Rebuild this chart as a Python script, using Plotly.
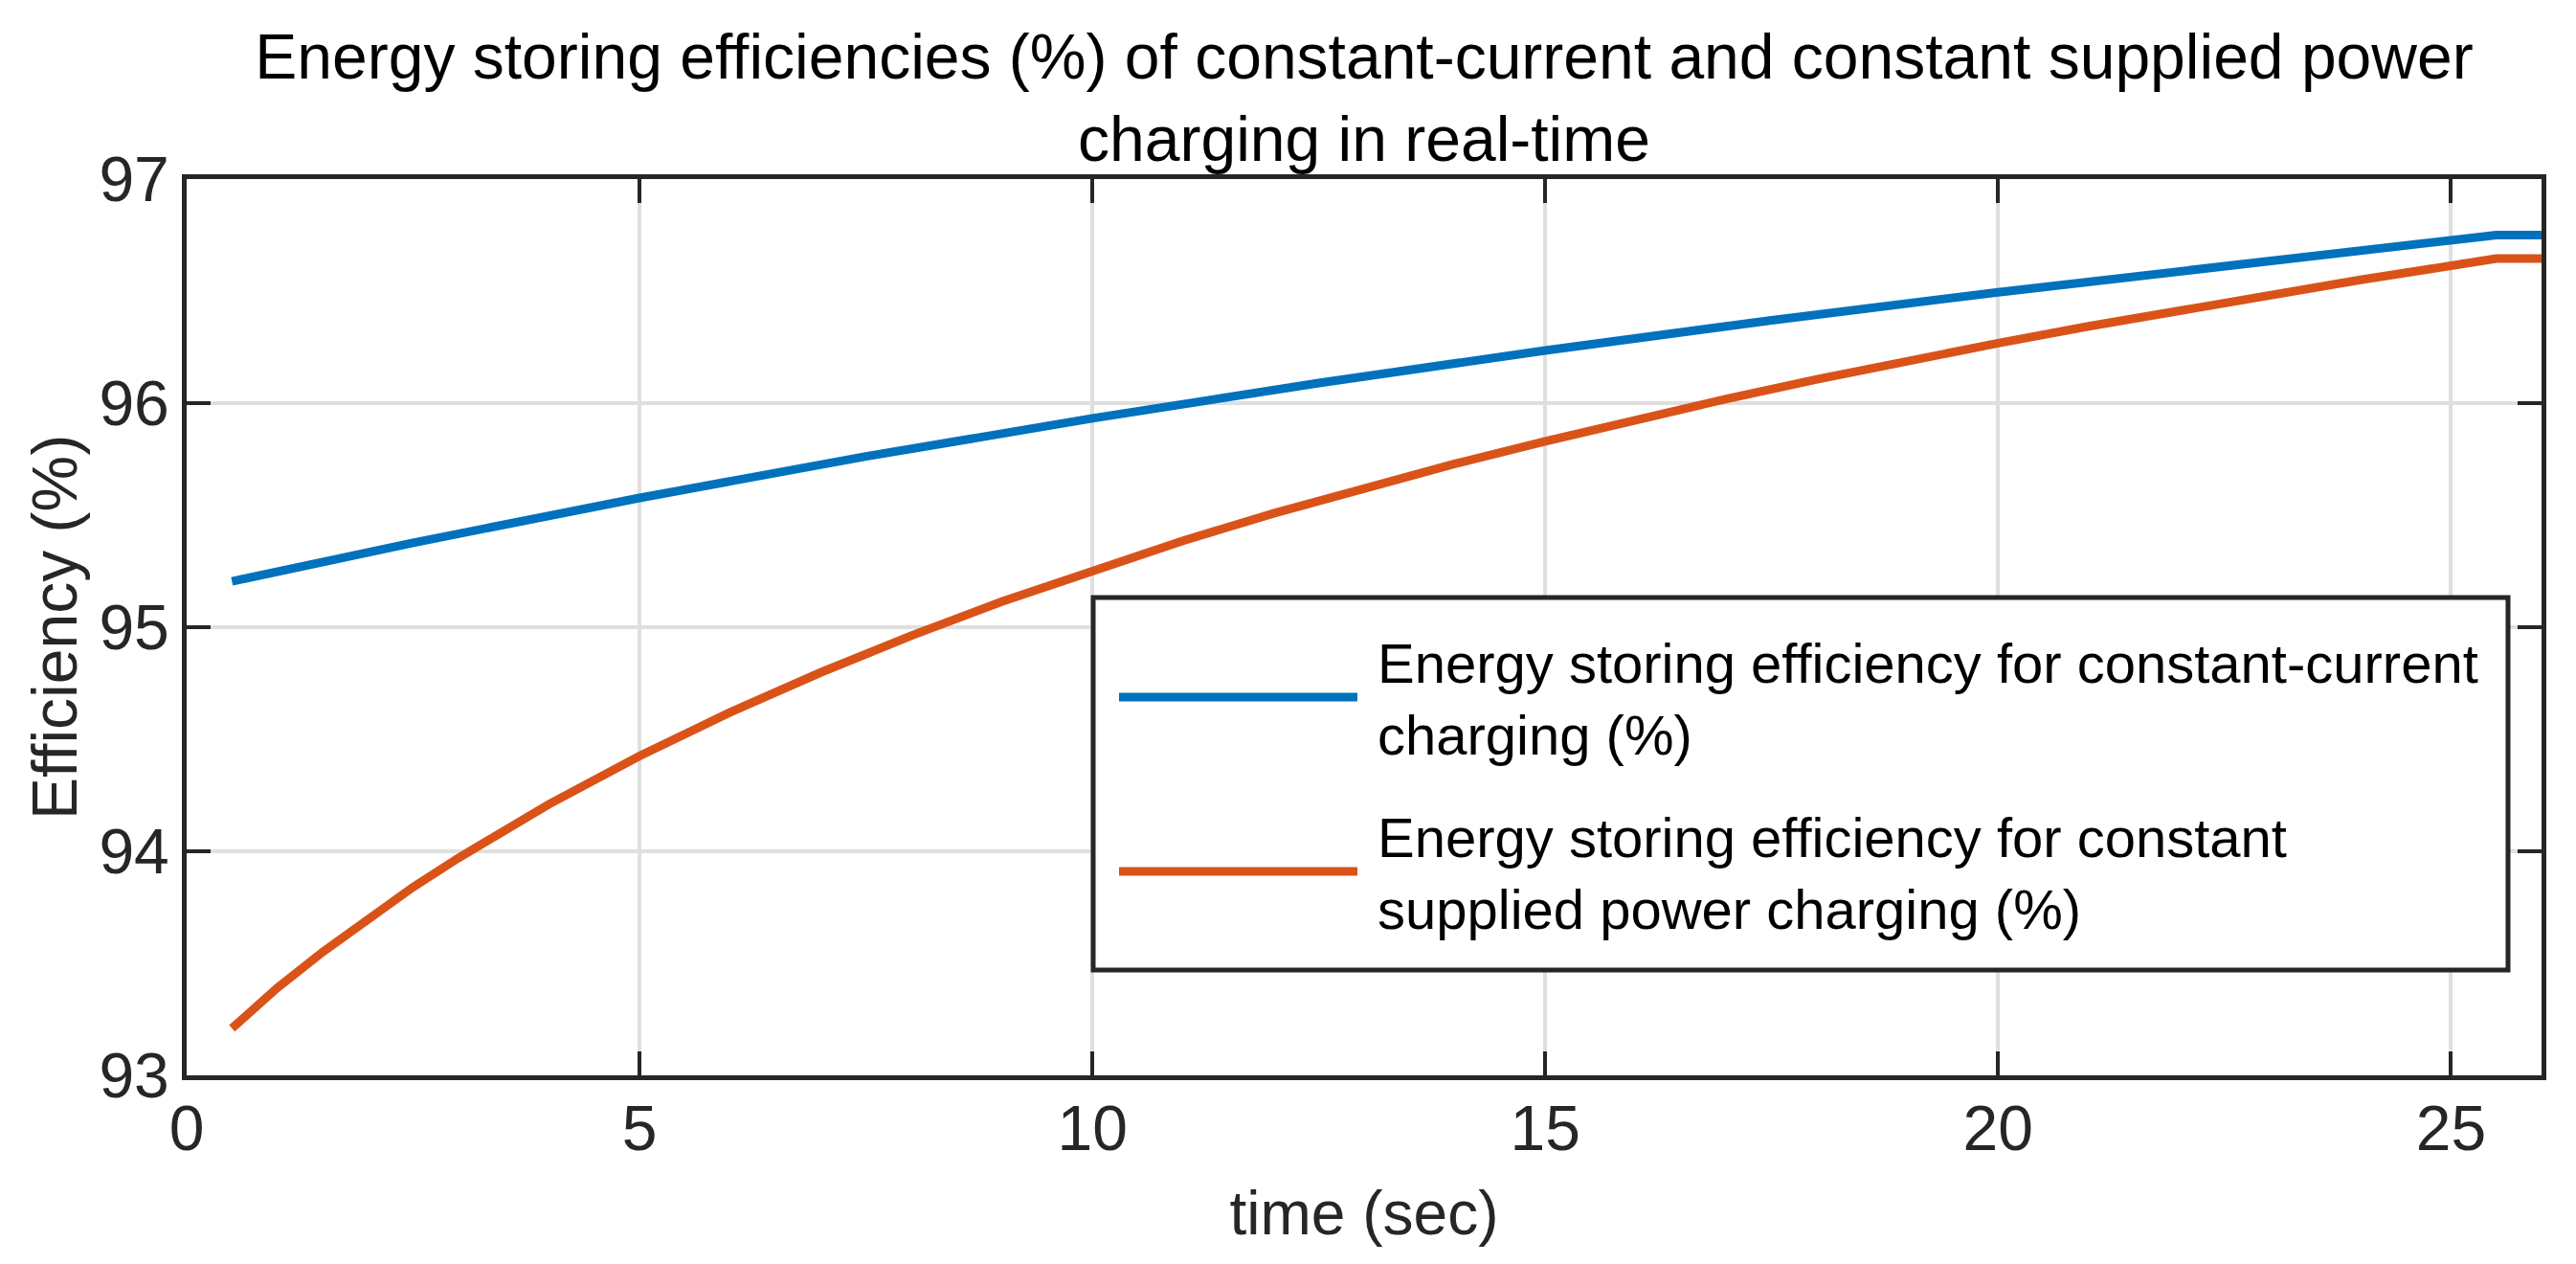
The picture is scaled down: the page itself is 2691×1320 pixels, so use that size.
import plotly.graph_objects as go

# ---------------- data ----------------
cc_time = [0.5, 2.5, 5, 7.5, 10, 12.5, 15, 17.5, 20, 22.5, 25, 25.5, 26]
cc_eff = [95.205, 95.377, 95.577, 95.762, 95.932, 96.09, 96.235, 96.37, 96.495, 96.61,
          96.722, 96.75, 96.75]

cp_time = [0.5, 1, 1.5, 2, 2.5, 3, 3.5, 4, 5, 6, 7, 8, 9, 10, 11, 12, 13, 14, 15,
           16, 17, 18, 19, 20, 21, 22, 23, 24, 25, 25.5, 26]
cp_eff = [93.21, 93.39, 93.55, 93.70, 93.84, 93.97, 94.09, 94.21, 94.425, 94.62,
          94.798, 94.962, 95.114, 95.255, 95.386, 95.508, 95.622, 95.729, 95.830,
          95.927, 96.019, 96.106, 96.189, 96.268, 96.343, 96.415, 96.484, 96.550,
          96.613, 96.645, 96.645]

series_names = [
    "Energy storing efficiency for constant-current<br>charging (%)",
    "Energy storing efficiency for constant<br>supplied power charging (%)",
]
series_colors = ["#0072BD", "#D95319"]

x_ticks = [0, 5, 10, 15, 20, 25]
y_ticks = [93, 94, 95, 96, 97]

title_text = ("Energy storing efficiencies (%) of constant-current and constant supplied power"
              "<br>charging in real-time")
x_title = "time (sec)"
y_title = "Efficiency (%)"

# ---------------- layout geometry ----------------
W, H = 2691, 1320
ML, MR, MT, MB = 195, 36, 187, 197
PW, PH = W - ML - MR, H - MT - MB
FONT = "Liberation Sans, Arial, Helvetica, sans-serif"
AX = "#262626"


def px(x):
    return (x - ML) / PW


def py(y):
    return (H - MB - y) / PH


fig = go.Figure()
fig.add_trace(go.Scatter(x=cc_time, y=cc_eff, mode="lines", name=series_names[0],
                         line=dict(color=series_colors[0], width=9), showlegend=False))
fig.add_trace(go.Scatter(x=cp_time, y=cp_eff, mode="lines", name=series_names[1],
                         line=dict(color=series_colors[1], width=9), showlegend=False))

axis_common = dict(
    showgrid=True, gridcolor="#dfdfdf", gridwidth=4,
    showline=True, linecolor=AX, linewidth=5, mirror="ticks",
    ticks="inside", ticklen=25, tickwidth=4, tickcolor=AX,
    zeroline=False, tickfont=dict(family=FONT, size=66, color=AX),
)

fig.update_layout(
    width=W, height=H,
    margin=dict(l=ML, r=MR, t=MT, b=MB, pad=0),
    paper_bgcolor="white", plot_bgcolor="white",
    font=dict(family=FONT, color=AX),
    title=dict(text=title_text, x=0.5, xref="paper", xanchor="center",
               y=1 - 82 / H, yref="container", yanchor="top",
               font=dict(family=FONT, size=66, color="black")),
    xaxis=dict(range=[0, 26], tickvals=x_ticks, ticklabelstandoff=-6,
               title=dict(text=x_title, font=dict(family=FONT, size=64, color=AX), standoff=31),
               **axis_common),
    yaxis=dict(range=[93, 97], tickvals=y_ticks, ticklabelstandoff=0,
               title=dict(text=y_title, font=dict(family=FONT, size=66, color=AX), standoff=3),
               **axis_common),
    showlegend=False,
)

# ---------------- legend (drawn as a box, samples and texts) ----------------
box = dict(x0=1142, x1=2620, y0=624, y1=1013)
fig.add_shape(type="rect", xref="paper", yref="paper",
              x0=px(box["x0"]), x1=px(box["x1"]), y0=py(box["y1"]), y1=py(box["y0"]),
              line=dict(color=AX, width=5), fillcolor="white", layer="above")
entry_y = [728, 910]
for name, color, ey in zip(series_names, series_colors, entry_y):
    fig.add_shape(type="line", xref="paper", yref="paper",
                  x0=px(1169), x1=px(1418), y0=py(ey), y1=py(ey),
                  line=dict(color=color, width=9), layer="above")
    fig.add_annotation(text=name, xref="paper", yref="paper", x=px(1437), y=py(ey + 2),
                       xanchor="left", yanchor="middle", align="left", showarrow=False,
                       font=dict(family=FONT, size=58, color="black"))

fig.write_html("out.html", config={"displayModeBar": False},
               post_script="document.body.style.margin='0';document.body.style.overflow='hidden';")
